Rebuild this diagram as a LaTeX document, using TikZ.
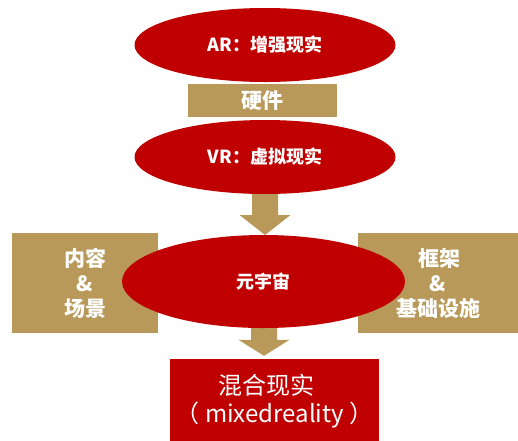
\documentclass[tikz,border=0pt]{standalone}
\usepackage{fontspec}
\usetikzlibrary{shapes.geometric,calc}
\newfontfamily\cjk{Noto Sans CJK SC}
\definecolor{mred}{RGB}{192,0,0}
\definecolor{gold}{RGB}{185,153,90}
\tikzset{
  oval/.style={ellipse, fill=mred, inner sep=0pt, text=white,
    font=\cjk\bfseries\fontsize{18}{21}\selectfont},
  goldbox/.style={rectangle, fill=gold, inner sep=0pt, text=white, align=center,
    font=\cjk\bfseries\fontsize{21}{25}\selectfont},
  redbox/.style={rectangle, fill=mred, inner sep=0pt, text=white, align=center,
    font=\cjk\fontsize{24}{28}\selectfont},
}
% block arrow from #1 down to #2, head length #3
\newcommand\blockarrow[3]{%
  \fill[gold] let \p1=(#1), \p2=(#2) in
    (\x1-13pt,\y1) -- (\x1+13pt,\y1) -- (\x1+13pt,\y2+#3) -- (\x1+25.5pt,\y2+#3)
    -- (\x1,\y2) -- (\x1-25.5pt,\y2+#3) -- (\x1-13pt,\y2+#3) -- cycle;}
\begin{document}
\begin{tikzpicture}[x=1pt,y=-1pt]
\useasboundingbox (0,0) rectangle (518,440);
\fill[white] (0,0) rectangle (518,440);

% side boxes
\node[goldbox, minimum width=146pt, minimum height=100pt] (left) at (85,283)
  {内容\\\&\\场景};
\node[goldbox, minimum width=160pt, minimum height=100pt] (right) at (438,283)
  {\hspace*{2pt}框架\\\&\\基础设施};

% bottom box
\node[redbox, minimum width=209pt, minimum height=84pt] (mr) at (274.5,401)
  {混合现实\hspace*{16pt}\\（ mixedreality ）};

% upper chain
\node[oval, minimum width=261pt, minimum height=74pt] (ar) at (265,45) {AR：增强现实};
\node[goldbox, minimum width=149pt, minimum height=33pt] (hw) at (262.5,100.5) {硬件};
\node[oval, minimum width=261pt, minimum height=74pt] (vr) at (265,157) {VR：虚拟现实};

% centre ellipse position helpers for the arrows
\coordinate (metatop) at (264,235);
\coordinate (metabot) at (264,326);
\coordinate (mrtop) at ($(mr.north)+(0,-3)$);

\blockarrow{vr.south}{metatop}{20pt}
\blockarrow{metabot}{mrtop}{16pt}

\node[oval, minimum width=283pt, minimum height=93pt] (meta) at (263.5,281.5) {元宇宙};
\end{tikzpicture}
\end{document}
